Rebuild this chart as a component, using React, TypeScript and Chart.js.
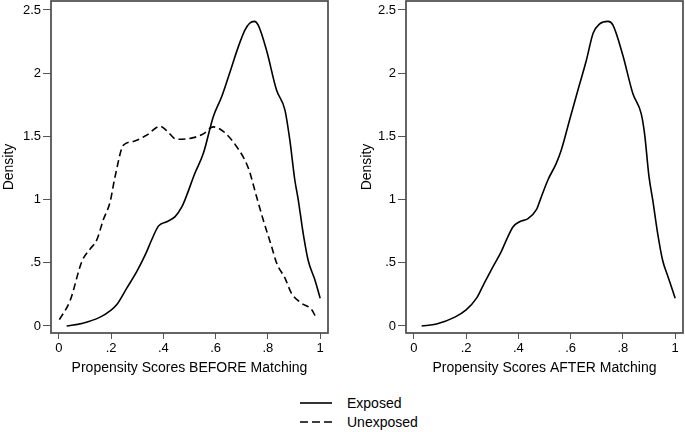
import React, { useEffect, useRef } from 'react';
import { Chart, registerables } from 'chart.js';

Chart.register(...registerables);

const FONT = '"Liberation Sans", Arial, Helvetica, sans-serif';

const xTicks = [0, 0.2, 0.4, 0.6, 0.8, 1];
const xTickLabels = ['0', '.2', '.4', '.6', '.8', '1'];
const yTicks = [0, 0.5, 1, 1.5, 2, 2.5];
const yTickLabels = ['0', '.5', '1', '1.5', '2', '2.5'];

const beforeExposedX = [0.03, 0.088, 0.158, 0.196, 0.222, 0.26, 0.298, 0.33, 0.355, 0.381, 0.413, 0.445, 0.47, 0.483, 0.521, 0.553, 0.591, 0.623, 0.655, 0.687, 0.712, 0.73, 0.748, 0.763, 0.795, 0.833, 0.865, 0.884, 0.903, 0.916, 0.935, 0.954, 0.98, 1.0];
const beforeExposedY = [0.0, 0.02, 0.07, 0.12, 0.17, 0.30, 0.43, 0.56, 0.68, 0.79, 0.825, 0.865, 0.94, 1.0, 1.21, 1.366, 1.656, 1.814, 2.01, 2.21, 2.34, 2.395, 2.41, 2.38, 2.18, 1.867, 1.71, 1.47, 1.155, 1.0, 0.733, 0.52, 0.364, 0.22];

const beforeUnexposedX = [0.002, 0.043, 0.088, 0.12, 0.145, 0.17, 0.196, 0.215, 0.247, 0.285, 0.336, 0.387, 0.413, 0.451, 0.515, 0.553, 0.591, 0.629, 0.68, 0.725, 0.757, 0.782, 0.814, 0.833, 0.865, 0.89, 0.929, 0.967, 0.986];
const beforeUnexposedY = [0.05, 0.2, 0.51, 0.61, 0.68, 0.84, 0.98, 1.18, 1.43, 1.46, 1.51, 1.58, 1.545, 1.477, 1.49, 1.52, 1.575, 1.54, 1.42, 1.25, 1.02, 0.84, 0.63, 0.5, 0.38, 0.26, 0.18, 0.13, 0.06];

const afterExposedX = [0.03, 0.087, 0.157, 0.2, 0.24, 0.265, 0.303, 0.335, 0.354, 0.38, 0.405, 0.437, 0.469, 0.484, 0.513, 0.545, 0.564, 0.596, 0.628, 0.66, 0.686, 0.711, 0.743, 0.762, 0.8, 0.838, 0.87, 0.883, 0.9, 0.914, 0.933, 0.952, 0.971, 1.0];
const afterExposedY = [0, 0.016, 0.07, 0.127, 0.22, 0.32, 0.47, 0.59, 0.68, 0.785, 0.825, 0.85, 0.92, 1.0, 1.155, 1.287, 1.39, 1.63, 1.867, 2.1, 2.316, 2.39, 2.41, 2.38, 2.14, 1.84, 1.68, 1.52, 1.18, 1.0, 0.733, 0.52, 0.4, 0.22];

const legendLabels = ['Exposed', 'Unexposed'];

const zip = (xs: number[], ys: number[]) => xs.map((x, i) => ({ x, y: ys[i] }));

const framePlugin = {
  id: 'frame',
  afterDraw(chart: any) {
    const { ctx, chartArea } = chart;
    ctx.save();
    ctx.strokeStyle = '#4a4a4a';
    ctx.lineWidth = 1.7;
    ctx.strokeRect(chartArea.left, chartArea.top, chartArea.right - chartArea.left, chartArea.bottom - chartArea.top);
    ctx.restore();
  },
};

type Series = { xs: number[]; ys: number[]; dashed: boolean; label: string };

function Panel(props: { left: number; width: number; xTitle: string; series: Series[]; yTitlePad: number; padRight: number }) {
  const ref = useRef<HTMLCanvasElement | null>(null);
  useEffect(() => {
    if (!ref.current) return;
    const chart = new Chart(ref.current, {
      type: 'line',
      data: {
        datasets: props.series.map((s) => ({
          label: s.label,
          data: zip(s.xs, s.ys),
          borderColor: '#000',
          borderWidth: 1.6,
          borderDash: s.dashed ? [7, 4] : [],
          pointRadius: 0,
          fill: false,
          cubicInterpolationMode: 'monotone',
        })),
      },
      options: {
        animation: false,
        responsive: false,
        layout: { padding: { top: 1, left: 0, right: props.padRight, bottom: 0 } },
        plugins: { legend: { display: false }, tooltip: { enabled: false } },
        scales: {
          x: {
            type: 'linear',
            min: -0.03,
            max: 1.03,
            afterBuildTicks: (s: any) => {
              s.ticks = xTicks.map((v) => ({ value: v }));
            },
            afterFit: (s: any) => {
              s.height = 52;
              s.paddingLeft = 0;
              s.paddingRight = 0;
            },
            ticks: {
              callback: (v: any) => xTickLabels[xTicks.indexOf(Number(v))],
              font: { family: FONT, size: 13 },
              color: '#000',
              padding: 2,
              maxRotation: 0,
              autoSkip: false,
            },
            grid: { drawOnChartArea: false, drawTicks: true, tickLength: 6, color: '#555' },
            border: { display: false },
            title: {
              display: true,
              text: props.xTitle,
              font: { family: FONT, size: 14 },
              color: '#000',
              padding: { top: 0, bottom: 8.6 },
            },
          },
          y: {
            type: 'linear',
            min: -0.0554,
            max: 2.571,
            afterBuildTicks: (s: any) => {
              s.ticks = yTicks.map((v) => ({ value: v }));
            },
            afterFit: (s: any) => {
              s.width = 51;
              s.paddingTop = 0;
              s.paddingBottom = 0;
            },
            ticks: {
              callback: (v: any) => yTickLabels[yTicks.indexOf(Number(v))],
              font: { family: FONT, size: 13 },
              color: '#000',
              padding: 2,
              autoSkip: false,
            },
            grid: { drawOnChartArea: false, drawTicks: true, tickLength: 8, color: '#555' },
            border: { display: false },
            title: {
              display: true,
              text: 'Density',
              font: { family: FONT, size: 14 },
              color: '#000',
              padding: { top: props.yTitlePad, bottom: 0 },
            },
          },
        },
      } as any,
      plugins: [framePlugin],
    });
    return () => chart.destroy();
  }, []);
  return (
    <canvas
      ref={ref}
      width={props.width}
      height={385}
      style={{ position: 'absolute', left: props.left, top: 0, width: props.width, height: 385 }}
    />
  );
}

export default function App() {
  const textStyle: React.CSSProperties = {
    position: 'absolute',
    left: 347,
    height: 16,
    lineHeight: '16px',
    fontFamily: FONT,
    fontSize: 14,
    color: '#000',
    whiteSpace: 'nowrap',
  };
  return (
    <div style={{ position: 'absolute', left: 0, top: 0, width: 685, height: 432, background: '#fff', overflow: 'hidden' }}>
      <Panel
        left={0}
        width={335}
        xTitle="Propensity Scores BEFORE Matching"
        yTitlePad={0.5}
        padRight={7}
        series={[
          { xs: beforeExposedX, ys: beforeExposedY, dashed: false, label: legendLabels[0] },
          { xs: beforeUnexposedX, ys: beforeUnexposedY, dashed: true, label: legendLabels[1] },
        ]}
      />
      <Panel
        left={355}
        width={330}
        xTitle="Propensity Scores AFTER Matching"
        yTitlePad={4.2}
        padRight={2}
        series={[{ xs: afterExposedX, ys: afterExposedY, dashed: false, label: legendLabels[0] }]}
      />
      <svg width={34} height={36} style={{ position: 'absolute', left: 299, top: 395 }}>
        <line x1={1} y1={8} x2={33} y2={8} stroke="#000" strokeWidth={1.6} />
        <line x1={1} y1={27} x2={33} y2={27} stroke="#000" strokeWidth={1.6} strokeDasharray="8 4" />
      </svg>
      <div style={{ ...textStyle, top: 395 }}>{legendLabels[0]}</div>
      <div style={{ ...textStyle, top: 414 }}>{legendLabels[1]}</div>
    </div>
  );
}
